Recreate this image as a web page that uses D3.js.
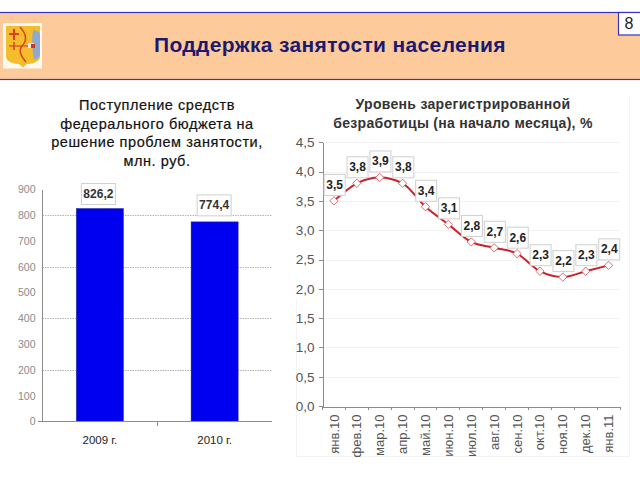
<!DOCTYPE html>
<html>
<head>
<meta charset="utf-8">
<script src="https://cdnjs.cloudflare.com/ajax/libs/d3/7.8.5/d3.min.js"></script>
<style>
  html, body { margin: 0; padding: 0; background: #fff; }
  svg { display: block; font-family: "Liberation Sans", Arial, sans-serif; }
  .axis path, .axis line { stroke: #8c8c8c; shape-rendering: crispEdges; }
</style>
</head>
<body>
<svg id="chart" width="640" height="480"></svg>
<script>
const pageTitle = "Поддержка занятости населения";
const pageNumber = "8";

const barTitle = ["Поступление средств", "федерального бюджета на", "решение проблем занятости,", "млн. руб."];
const barCategories = ["2009 г.", "2010 г."];
const barValues = [826.2, 774.4];
const barTicks = [0, 100, 200, 300, 400, 500, 600, 700, 800, 900];
const barGrid = [200, 400, 600, 800];

const lineTitle = ["Уровень зарегистрированной", "безработицы (на начало месяца), %"];
const lineCategories = ["янв.10", "фев.10", "мар.10", "апр.10", "май.10", "июн.10", "июл.10", "авг.10", "сен.10", "окт.10", "ноя.10", "дек.10", "янв.11"];
const lineValues = [3.5, 3.8, 3.9, 3.8, 3.4, 3.1, 2.8, 2.7, 2.6, 2.3, 2.2, 2.3, 2.4];
const lineTicks = [0, 0.5, 1, 1.5, 2, 2.5, 3, 3.5, 4, 4.5];

const comma = v => v.toFixed(1).replace(".", ",");
const svg = d3.select("#chart");

// header
svg.append("rect").attr("x", -2).attr("y", 12.5).attr("width", 644).attr("height", 67)
  .attr("fill", "#fdcb9b").attr("stroke", "#3a32c8").attr("stroke-width", 1.2);
svg.append("rect").attr("x", 618.5).attr("y", 12.5).attr("width", 24).attr("height", 22.5)
  .attr("fill", "#fff").attr("stroke", "#3a32c8").attr("stroke-width", 1.2);
svg.append("text").attr("x", 629).attr("y", 28.5).attr("text-anchor", "middle")
  .attr("font-size", 16).attr("fill", "#222").text(pageNumber);
svg.append("text").attr("x", 330).attr("y", 52).attr("text-anchor", "middle")
  .attr("font-size", 21).attr("font-weight", "bold").attr("letter-spacing", 0.35).attr("fill", "#1b1a70")
  .text(pageTitle);

// coat of arms
const arms = svg.append("g");
arms.append("rect").attr("x", 3).attr("y", 23).attr("width", 39).attr("height", 45.5).attr("fill", "#fffaf0");
arms.append("path").attr("d", "M6,26H40V56Q40,63 27,64L23,67.5L19,64Q6,63 6,56Z").attr("fill", "#f5bd2c");
arms.append("path").attr("d", "M33,30Q40,31 40,34V54Q40,58 34,60Q31,45 33,30Z").attr("fill", "#8fa9cf");
arms.append("path").attr("d", "M9,34H19M14,29V40").attr("stroke", "#e2391f").attr("stroke-width", 2).attr("fill", "none");
arms.append("path").attr("d", "M20,27Q30,38 22,46Q17,52 26,62").attr("stroke", "#d8451f").attr("stroke-width", 1.5).attr("fill", "none");
arms.append("path").attr("d", "M9,46H30").attr("stroke", "#d8451f").attr("stroke-width", 1.2);
arms.append("path").attr("d", "M14,42V50").attr("stroke", "#d8451f").attr("stroke-width", 1.5);
arms.append("rect").attr("x", 28).attr("y", 43).attr("width", 6).attr("height", 5).attr("fill", "#e8e8e8");
arms.append("rect").attr("x", 31).attr("y", 44).attr("width", 4).attr("height", 4).attr("fill", "#c8332a");

// bar chart
svg.append("g").selectAll("text").data(barTitle).join("text")
  .attr("x", 157).attr("y", (d, i) => [110, 129, 147, 166][i])
  .attr("text-anchor", "middle").attr("font-size", 14.5).attr("letter-spacing", 0.55)
  .attr("fill", "#111").attr("stroke", "#111").attr("stroke-width", 0.2).text(d => d);

const barX = d3.scaleBand().domain(barCategories).range([42.5, 272]).paddingInner(0.59).paddingOuter(0.295);
const barY = d3.scaleLinear().domain([0, 900]).range([421.5, 189.5]);

svg.append("g").selectAll("line").data(barGrid).join("line")
  .attr("x1", 42.5).attr("x2", 272)
  .attr("y1", d => Math.round(barY(d)) + 0.5).attr("y2", d => Math.round(barY(d)) + 0.5)
  .attr("stroke", "#b4b4b4").attr("stroke-dasharray", "1.5 1");

svg.append("g").selectAll("rect").data(barValues).join("rect")
  .attr("x", (d, i) => barX(barCategories[i])).attr("width", barX.bandwidth())
  .attr("y", d => barY(d)).attr("height", d => barY(0) - barY(d))
  .attr("fill", "#0000f0").attr("stroke", "#23238c").attr("stroke-width", 0.5);

const barAxisY = svg.append("g").attr("class", "axis").attr("transform", "translate(42.5,0)")
  .call(d3.axisLeft(barY).tickValues(barTicks).tickSize(0).tickPadding(7));
barAxisY.selectAll("text").attr("font-size", 10.5).attr("fill", "#8a8a8a").attr("font-family", "Liberation Sans");
barAxisY.select(".domain").attr("d", "M0,189.5V421.5");

const barAxisX = svg.append("g").attr("class", "axis").attr("transform", "translate(0,421.5)")
  .call(d3.axisBottom(barX).tickSize(0).tickPadding(14));
barAxisX.selectAll("text").attr("font-size", 11.5).attr("fill", "#222").attr("font-family", "Liberation Sans");
barAxisX.select(".domain").attr("d", "M38,0H272");
barAxisX.append("line").attr("x1", 157.5).attr("x2", 157.5).attr("y1", 0).attr("y2", 4);

const barLabels = svg.append("g").selectAll("g").data(barValues).join("g")
  .attr("transform", (d, i) => `translate(${barX(barCategories[i]) + barX.bandwidth() / 2 + (i ? -0.5 : -1.5)},${barY(d) - 14.5 - i * 2})`);
barLabels.append("rect").attr("x", -17).attr("y", -10.5).attr("width", 34).attr("height", 21)
  .attr("fill", "#fff").attr("stroke", "#cfcfcf");
barLabels.append("text").attr("text-anchor", "middle").attr("y", 4)
  .attr("font-size", 12).attr("font-weight", "bold").attr("fill", "#333").text(d => comma(d));

// line chart
svg.append("path").attr("d", "M296.5,300V456.5H629.5V96")
  .attr("fill", "none").attr("stroke", "#f3f3f3");
svg.append("g").selectAll("text").data(lineTitle).join("text")
  .attr("x", 463).attr("y", (d, i) => 109 + i * 19)
  .attr("text-anchor", "middle").attr("font-size", 14).attr("font-weight", "bold")
  .attr("letter-spacing", 0.3).attr("fill", "#333").text(d => d);

const lineX = d3.scaleBand().domain(lineCategories).range([322.5, 620]);
const lineY = d3.scaleLinear().domain([0, 4.5]).range([406, 142.3]);
const cx = i => lineX(lineCategories[i]) + lineX.bandwidth() / 2;

svg.append("g").selectAll("line").data(lineTicks.slice(1)).join("line")
  .attr("x1", 322.5).attr("x2", 620)
  .attr("y1", d => Math.round(lineY(d)) + 0.5).attr("y2", d => Math.round(lineY(d)) + 0.5)
  .attr("stroke", "#f3f3f3");

const lineAxisY = svg.append("g").attr("class", "axis").attr("transform", "translate(322.5,0)")
  .call(d3.axisLeft(lineY).tickValues(lineTicks).tickSize(4).tickPadding(4).tickFormat(comma).tickSizeOuter(0));
lineAxisY.selectAll("text").attr("font-size", 13.5).attr("fill", "#555").attr("font-family", "Liberation Sans");

const lineAxisX = svg.append("g").attr("class", "axis").attr("transform", "translate(0,406.5)")
  .call(d3.axisBottom(lineX).tickSize(0).tickPadding(0));
lineAxisX.selectAll(".tick text")
  .attr("transform", "rotate(-90)").attr("x", -8).attr("y", 0).attr("dy", "0.35em")
  .attr("text-anchor", "end").attr("font-size", 13).attr("fill", "#555").attr("font-family", "Liberation Sans");
lineAxisX.selectAll("line.sep").data(d3.range(lineCategories.length + 1)).join("line")
  .attr("class", "sep")
  .attr("x1", d => lineX.range()[0] + d * lineX.step()).attr("x2", d => lineX.range()[0] + d * lineX.step())
  .attr("y1", 0).attr("y2", 3);

const lineGen = d3.line().curve(d3.curveMonotoneX).x((d, i) => cx(i)).y(d => lineY(d));
svg.append("path").datum(lineValues).attr("d", lineGen)
  .attr("fill", "none").attr("stroke", "#c92128").attr("stroke-width", 2);

svg.append("g").selectAll("path").data(lineValues).join("path")
  .attr("transform", (d, i) => `translate(${cx(i)},${lineY(d)})`)
  .attr("d", d3.symbol().type(d3.symbolDiamond2).size(44))
  .attr("fill", "#fff").attr("stroke", "#d9464c").attr("stroke-width", 0.8);

const pointLabels = svg.append("g").selectAll("g").data(lineValues).join("g")
  .attr("transform", (d, i) => `translate(${cx(i) + 0.7},${lineY(d) - 16})`);
pointLabels.append("rect").attr("x", -10.5).attr("y", -10.5).attr("width", 21).attr("height", 21)
  .attr("fill", "#fff").attr("stroke", "#cfcfcf");
pointLabels.append("text").attr("text-anchor", "middle").attr("y", 4)
  .attr("font-size", 12).attr("font-weight", "bold").attr("fill", "#222").text(d => comma(d));
</script>
</body>
</html>
